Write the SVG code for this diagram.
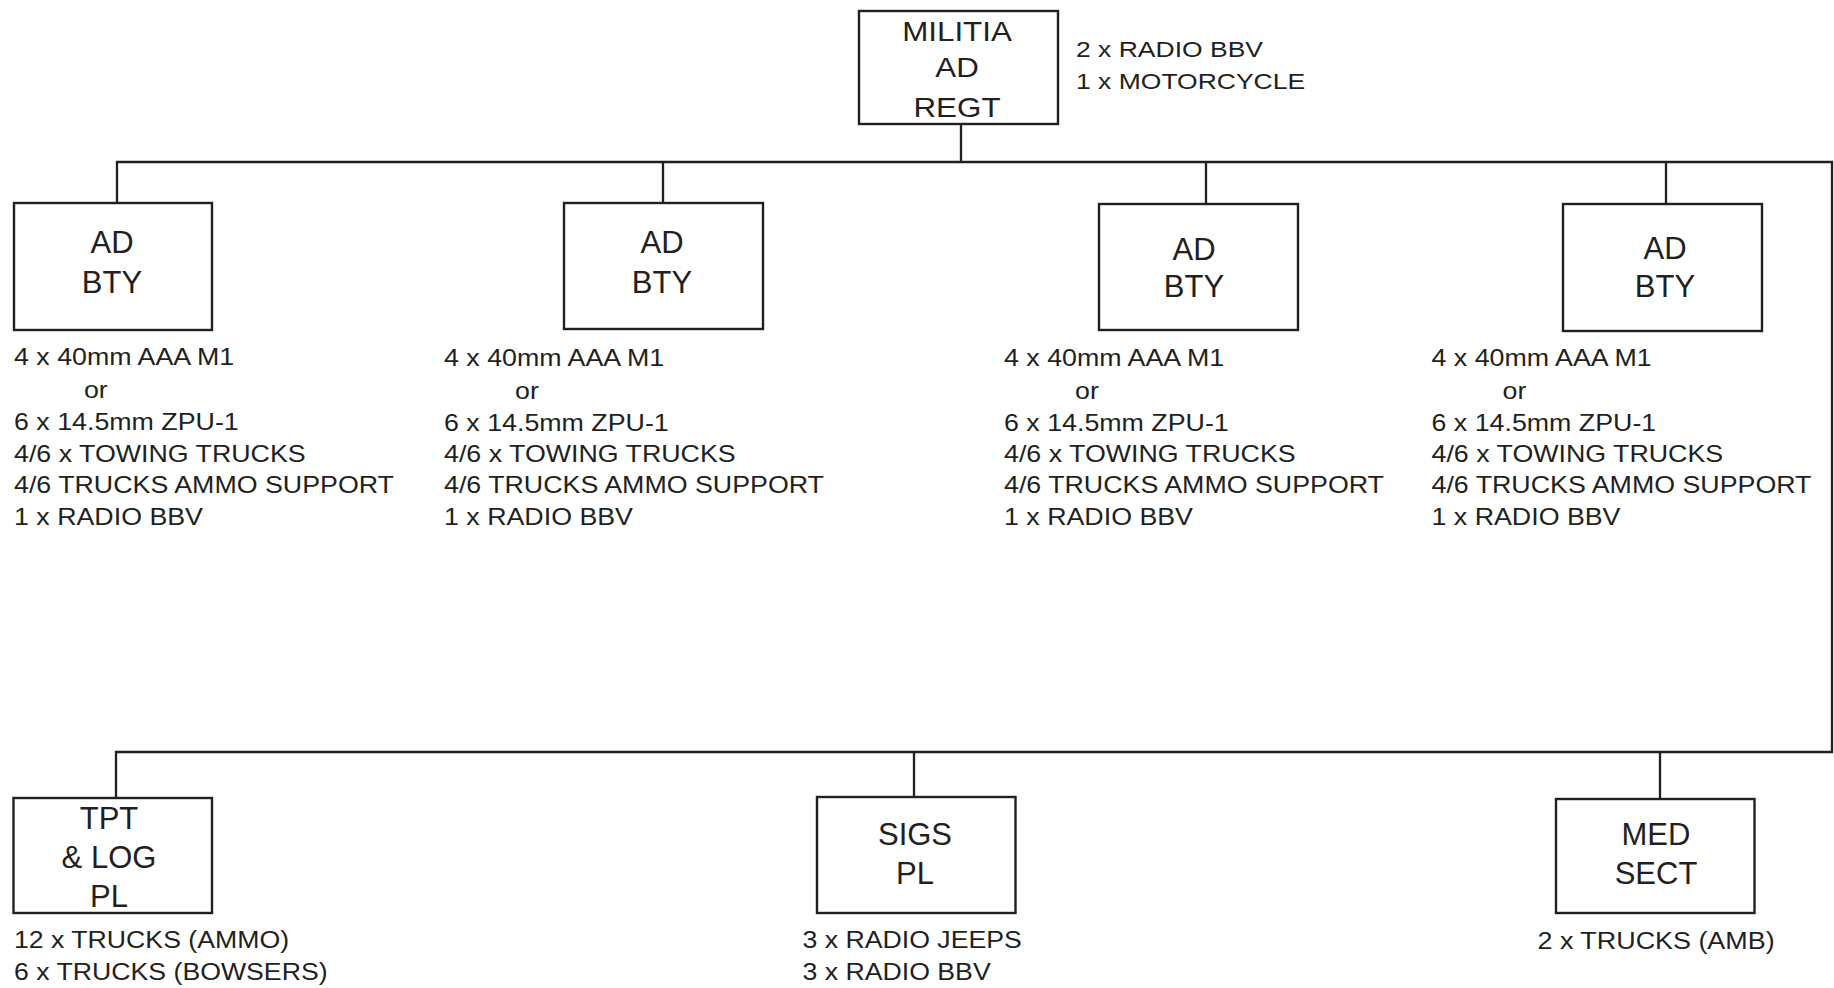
<svg xmlns="http://www.w3.org/2000/svg" width="1834" height="988" viewBox="0 0 1834 988">
<style>
.bg{fill:#ffffff}
.box{fill:#ffffff;stroke:#231f20;stroke-width:2.4}
.conn{fill:none;stroke:#231f20;stroke-width:2.3}
.lbl{font-family:"Liberation Sans",Arial,sans-serif;font-size:31px;fill:#231f20;text-anchor:middle}
.top{font-family:"Liberation Sans",Arial,sans-serif;font-size:28.5px;fill:#231f20;text-anchor:middle}
.sm{font-family:"Liberation Sans",Arial,sans-serif;font-size:23px;fill:#231f20}
.sm2{font-family:"Liberation Sans",Arial,sans-serif;font-size:22px;fill:#231f20}
</style>
<rect class="bg" x="0" y="0" width="1834" height="988"/>
<g id="connectors">
<polyline class="conn" points="117,203 117,162 1832,162 1832,752 116,752 116,798"/>
<line class="conn" x1="961" y1="124" x2="961" y2="162"/>
<line class="conn" x1="663" y1="162" x2="663" y2="203"/>
<line class="conn" x1="1206" y1="162" x2="1206" y2="204"/>
<line class="conn" x1="1666" y1="162" x2="1666" y2="204"/>
<line class="conn" x1="914" y1="752" x2="914" y2="797"/>
<line class="conn" x1="1660" y1="752" x2="1660" y2="799"/>
</g>
<g id="regt">
<rect class="box" x="859" y="11" width="199" height="113"/>
<g transform="translate(957,0) scale(1.1,1)">
<text class="top" x="0" y="41">MILITIA</text>
<text class="top" x="0" y="77">AD</text>
<text class="top" x="0" y="117">REGT</text>
</g>
<g transform="translate(1076,0) scale(1.205,1)">
<text class="sm2" x="0" y="57">2 x RADIO BBV</text>
<text class="sm2" x="0" y="89">1 x MOTORCYCLE</text>
</g>
</g>
<g id="bty1">
<rect class="box" x="14" y="203" width="198" height="127"/>
<text class="lbl" x="112" y="253">AD</text>
<text class="lbl" x="112" y="293">BTY</text>
<g transform="translate(14,0) scale(1.165,1)">
<text class="sm" x="0" y="365">4 x 40mm AAA M1</text>
<text class="sm" x="60" y="398">or</text>
<text class="sm" x="0" y="430">6 x 14.5mm ZPU-1</text>
<text class="sm" x="0" y="462">4/6 x TOWING TRUCKS</text>
<text class="sm" x="0" y="493">4/6 TRUCKS AMMO SUPPORT</text>
<text class="sm" x="0" y="525">1 x RADIO BBV</text>
</g>
</g>
<g id="bty2">
<rect class="box" x="564" y="203" width="199" height="126"/>
<text class="lbl" x="662" y="253">AD</text>
<text class="lbl" x="662" y="293">BTY</text>
<g transform="translate(444,0) scale(1.165,1)">
<text class="sm" x="0" y="366">4 x 40mm AAA M1</text>
<text class="sm" x="61" y="399">or</text>
<text class="sm" x="0" y="431">6 x 14.5mm ZPU-1</text>
<text class="sm" x="0" y="462">4/6 x TOWING TRUCKS</text>
<text class="sm" x="0" y="493">4/6 TRUCKS AMMO SUPPORT</text>
<text class="sm" x="0" y="525">1 x RADIO BBV</text>
</g>
</g>
<g id="bty3">
<rect class="box" x="1099" y="204" width="199" height="126"/>
<text class="lbl" x="1194" y="260">AD</text>
<text class="lbl" x="1194" y="297">BTY</text>
<g transform="translate(1004,0) scale(1.165,1)">
<text class="sm" x="0" y="366">4 x 40mm AAA M1</text>
<text class="sm" x="61" y="399">or</text>
<text class="sm" x="0" y="431">6 x 14.5mm ZPU-1</text>
<text class="sm" x="0" y="462">4/6 x TOWING TRUCKS</text>
<text class="sm" x="0" y="493">4/6 TRUCKS AMMO SUPPORT</text>
<text class="sm" x="0" y="525">1 x RADIO BBV</text>
</g>
</g>
<g id="bty4">
<rect class="box" x="1563" y="204" width="199" height="127"/>
<text class="lbl" x="1665" y="259">AD</text>
<text class="lbl" x="1665" y="297">BTY</text>
<g transform="translate(1431.5,0) scale(1.165,1)">
<text class="sm" x="0" y="366">4 x 40mm AAA M1</text>
<text class="sm" x="61" y="399">or</text>
<text class="sm" x="0" y="431">6 x 14.5mm ZPU-1</text>
<text class="sm" x="0" y="462">4/6 x TOWING TRUCKS</text>
<text class="sm" x="0" y="493">4/6 TRUCKS AMMO SUPPORT</text>
<text class="sm" x="0" y="525">1 x RADIO BBV</text>
</g>
</g>
<g id="tpt">
<rect class="box" x="13.5" y="798" width="198.5" height="115"/>
<text class="lbl" x="109" y="829">TPT</text>
<text class="lbl" x="109" y="868">&amp; LOG</text>
<text class="lbl" x="109" y="907">PL</text>
<g transform="translate(14,0) scale(1.16,1)">
<text class="sm" x="0" y="948">12 x TRUCKS (AMMO)</text>
<text class="sm" x="0" y="980">6 x TRUCKS (BOWSERS)</text>
</g>
</g>
<g id="sigs">
<rect class="box" x="817" y="797" width="198.5" height="116"/>
<text class="lbl" x="915" y="845">SIGS</text>
<text class="lbl" x="915" y="884">PL</text>
<g transform="translate(802.5,0) scale(1.16,1)">
<text class="sm" x="0" y="948">3 x RADIO JEEPS</text>
<text class="sm" x="0" y="980">3 x RADIO BBV</text>
</g>
</g>
<g id="med">
<rect class="box" x="1556" y="799" width="198.5" height="114"/>
<text class="lbl" x="1656" y="845">MED</text>
<text class="lbl" x="1656" y="884">SECT</text>
<g transform="translate(1537.5,0) scale(1.17,1)">
<text class="sm" x="0" y="949">2 x TRUCKS (AMB)</text>
</g>
</g>
</svg>
